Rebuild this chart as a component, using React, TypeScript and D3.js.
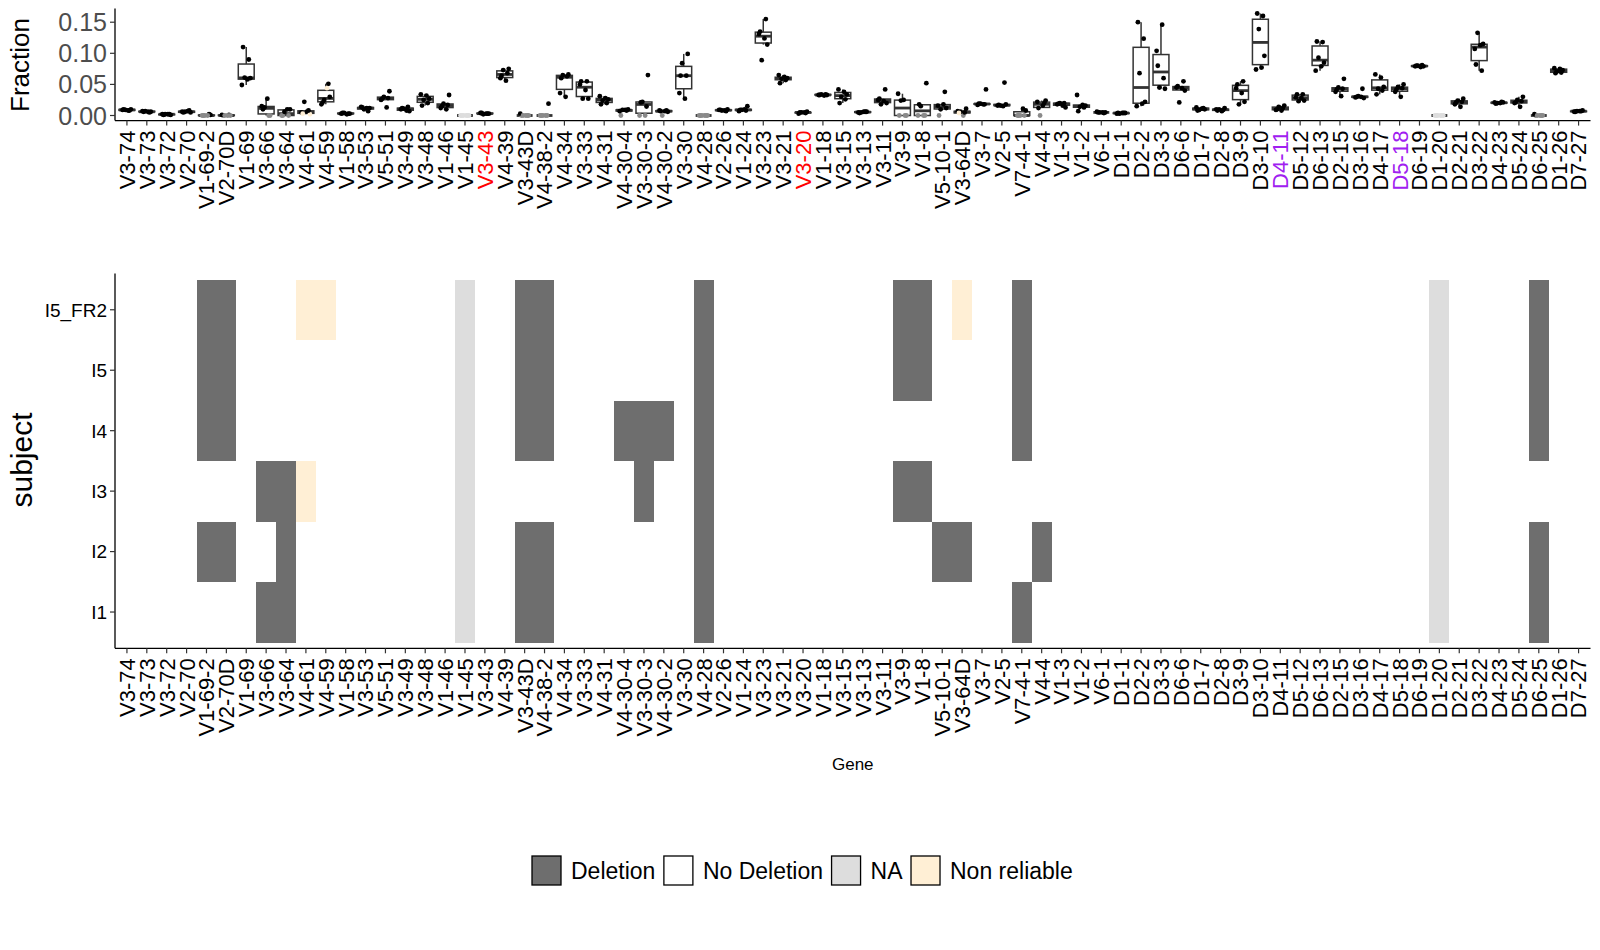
import React from "react";
import * as d3 from "d3";

// genes in plotting order (left to right)
const genes = [
  "V3-74", "V3-73", "V3-72", "V2-70", "V1-69-2", "V2-70D", "V1-69", "V3-66", "V3-64", "V4-61",
  "V4-59", "V1-58", "V3-53", "V5-51", "V3-49", "V3-48", "V1-46", "V1-45", "V3-43", "V4-39",
  "V3-43D", "V4-38-2", "V4-34", "V3-33", "V4-31", "V4-30-4", "V3-30-3", "V4-30-2", "V3-30", "V4-28",
  "V2-26", "V1-24", "V3-23", "V3-21", "V3-20", "V1-18", "V3-15", "V3-13", "V3-11", "V3-9",
  "V1-8", "V5-10-1", "V3-64D", "V3-7", "V2-5", "V7-4-1", "V4-4", "V1-3", "V1-2", "V6-1",
  "D1-1", "D2-2", "D3-3", "D6-6", "D1-7", "D2-8", "D3-9", "D3-10", "D4-11", "D5-12",
  "D6-13", "D2-15", "D3-16", "D4-17", "D5-18", "D6-19", "D1-20", "D2-21", "D3-22", "D4-23",
  "D5-24", "D6-25", "D1-26", "D7-27",
];

// subjects, bottom to top in the heatmap
const subjects = ["I1", "I2", "I3", "I4", "I5", "I5_FR2"];

// usage fraction per gene, one value per subject (I1, I2, I3, I4, I5, I5_FR2)
const fractions: number[][] = [
  [0.009, 0.008, 0.010, 0.009, 0.008, 0.010],
  [0.006, 0.007, 0.005, 0.006, 0.007, 0.006],
  [0.002, 0.001, 0.002, 0.002, 0.001, 0.002],
  [0.006, 0.007, 0.005, 0.006, 0.008, 0.005],
  [0.001, 0, 0.002, 0, 0, 0],
  [0.001, 0, 0.001, 0, 0, 0],
  [0.049, 0.058, 0.060, 0.061, 0.090, 0.110],
  [0, 0.013, 0, 0.010, 0.015, 0.027],
  [0, 0, 0, 0.010, 0.010, 0.006],
  [0.005, 0.006, 0.002, 0.022, 0.008, 0.003],
  [0.030, 0.025, 0.051, 0.021, 0.018, 0.044],
  [0.003, 0.004, 0.003, 0.002, 0.003, 0.004],
  [0.014, 0.012, 0.012, 0.010, 0.007, 0.013],
  [0.039, 0.030, 0.028, 0.027, 0.025, 0.013],
  [0.014, 0.012, 0.010, 0.008, 0.007, 0.011],
  [0.034, 0.032, 0.027, 0.025, 0.020, 0.016],
  [0.033, 0.019, 0.017, 0.015, 0.012, 0.010],
  [0, 0, 0, 0, 0, 0],
  [0.004, 0.003, 0.003, 0.002, 0.003, 0.004],
  [0.075, 0.073, 0.068, 0.064, 0.060, 0.056],
  [0, 0, 0.003, 0, 0, 0],
  [0, 0, 0.019, 0, 0, 0],
  [0.066, 0.065, 0.063, 0.060, 0.036, 0.030],
  [0.055, 0.055, 0.050, 0.041, 0.027, 0.027],
  [0.031, 0.028, 0.026, 0.024, 0.020, 0.018],
  [0.010, 0.009, 0.008, 0, 0.007, 0.009],
  [0.0145, 0.021, 0, 0, 0.065, 0.022],
  [0.008, 0.007, 0.006, 0, 0.008, 0.007],
  [0.099, 0.084, 0.064, 0.064, 0.036, 0.027],
  [0, 0, 0, 0, 0, 0],
  [0.009, 0.008, 0.010, 0.008, 0.007, 0.009],
  [0.015, 0.009, 0.008, 0.009, 0.007, 0.010],
  [0.155, 0.135, 0.131, 0.124, 0.114, 0.089],
  [0.065, 0.062, 0.060, 0.059, 0.057, 0.052],
  [0.006, 0.005, 0.004, 0.005, 0.003, 0.005],
  [0.034, 0.033, 0.033, 0.032, 0.033, 0.034],
  [0.042, 0.038, 0.034, 0.030, 0.026, 0.020],
  [0.006, 0.005, 0.006, 0.004, 0.005, 0.006],
  [0.042, 0.027, 0.025, 0.023, 0.020, 0.018],
  [0.035, 0.025, 0, 0.024, 0, 0],
  [0.052, 0.015, 0, 0.018, 0, 0],
  [0.038, 0, 0.016, 0.018, 0.012, 0.010],
  [0.007, 0, 0.011, 0.006, 0.005, 0.004],
  [0.042, 0.019, 0.018, 0.019, 0.017, 0.018],
  [0.053, 0.017, 0.016, 0.015, 0.018, 0.016],
  [0, 0.011, 0.008, 0, 0, 0],
  [0.024, 0, 0.020, 0.012, 0.022, 0.016],
  [0.020, 0.019, 0.018, 0.016, 0.013, 0.020],
  [0.033, 0.017, 0.016, 0.014, 0.013, 0.007],
  [0.005, 0.005, 0.004, 0.005, 0.006, 0.005],
  [0.004, 0.004, 0.003, 0.004, 0.004, 0.003],
  [0.015, 0.019, 0.022, 0.068, 0.1235, 0.150],
  [0.043, 0.045, 0.060, 0.080, 0.104, 0.146],
  [0.055, 0.047, 0.045, 0.044, 0.040, 0.021],
  [0.013, 0.011, 0.010, 0.009, 0.012, 0.008],
  [0.012, 0.010, 0.009, 0.008, 0.010, 0.007],
  [0.055, 0.050, 0.044, 0.036, 0.022, 0.018],
  [0.074, 0.077, 0.096, 0.139, 0.160, 0.164],
  [0.016, 0.014, 0.012, 0.010, 0.009, 0.008],
  [0.034, 0.034, 0.029, 0.028, 0.024, 0.023],
  [0.072, 0.079, 0.085, 0.093, 0.118, 0.119],
  [0.059, 0.045, 0.043, 0.042, 0.038, 0.031],
  [0.043, 0.030, 0.029, 0.030, 0.028, 0.031],
  [0.066, 0.061, 0.046, 0.043, 0.040, 0.034],
  [0.050, 0.046, 0.044, 0.042, 0.038, 0.030],
  [0.081, 0.080, 0.079, 0.078, 0.079, 0.080],
  [0, 0, 0, 0, 0, 0],
  [0.027, 0.024, 0.022, 0.021, 0.018, 0.014],
  [0.072, 0.082, 0.107, 0.113, 0.115, 0.133],
  [0.021, 0.020, 0.021, 0.020, 0.022, 0.019],
  [0.030, 0.025, 0.023, 0.021, 0.020, 0.014],
  [0, 0, 0.002, 0, 0, 0],
  [0.076, 0.075, 0.073, 0.071, 0.069, 0.068],
  [0.008, 0.007, 0.007, 0.006, 0.006, 0.007],
];

// highlighted tick labels on the top panel
const redGenes = ["V3-43", "V3-20"];
const purpleGenes = ["D4-11", "D5-18"];

// heatmap status
const deletions: [string, string[]][] = [
  ["I5_FR2", ["V1-69-2", "V2-70D", "V3-43D", "V4-38-2", "V4-28", "V3-9", "V1-8", "V7-4-1", "D6-25"]],
  ["I5", ["V1-69-2", "V2-70D", "V3-43D", "V4-38-2", "V4-28", "V3-9", "V1-8", "V7-4-1", "D6-25"]],
  ["I4", ["V1-69-2", "V2-70D", "V3-43D", "V4-38-2", "V4-30-4", "V3-30-3", "V4-30-2", "V4-28", "V7-4-1", "D6-25"]],
  ["I3", ["V3-66", "V3-64", "V3-30-3", "V4-28", "V3-9", "V1-8"]],
  ["I2", ["V1-69-2", "V2-70D", "V3-64", "V3-43D", "V4-38-2", "V4-28", "V5-10-1", "V3-64D", "V4-4", "D6-25"]],
  ["I1", ["V3-66", "V3-64", "V3-43D", "V4-38-2", "V4-28", "V7-4-1", "D6-25"]],
];
const naGenes = ["V1-45", "D1-20"];
const nonReliable: [string, string[]][] = [
  ["I5_FR2", ["V4-61", "V4-59", "V3-64D"]],
  ["I3", ["V4-61"]],
];

const statusLevels = ["Deletion", "No Deletion", "NA", "Non reliable"];
const statusColors = ["#6E6E6E", "#FFFFFF", "#DDDDDD", "#FFEFD5"];
const pointColors: Record<string, string> = {
  "Deletion": "#8A8A8A",
  "No Deletion": "#000000",
  "NA": "#DDDDDD",
  "Non reliable": "#FFEFD5",
};

function statusOf(subject: string, gene: string) {
  if (naGenes.includes(gene)) return "NA";
  const d = deletions.find((r) => r[0] === subject);
  if (d && d[1].includes(gene)) return "Deletion";
  const n = nonReliable.find((r) => r[0] === subject);
  if (n && n[1].includes(gene)) return "Non reliable";
  return "No Deletion";
}

const FONT = "'Liberation Sans', Arial, Helvetica, sans-serif";
const W = 1600;
const H = 950;
const LEFT = 115;
const RIGHT = 1590.5;

function textWidth(s: string, size: number) {
  const c = document.createElement("canvas").getContext("2d");
  if (!c) return s.length * size * 0.55;
  c.font = `${size}px ${FONT}`;
  return c.measureText(s).width;
}

export default function App() {
  const x = d3.scaleBand<string>().domain(genes).range([LEFT, RIGHT]).paddingInner(0).paddingOuter(0.1);
  const step = x.bandwidth();
  const cx = (g: string) => (x(g) as number) + step / 2;

  // top panel
  const allVals = fractions.flat();
  const maxF = d3.max(allVals) as number;
  const pad = maxF * 0.05;
  const yTop = d3.scaleLinear().domain([-pad, maxF + pad]).range([120.6, 8.4]);
  const topTicks = [0, 0.05, 0.1, 0.15];

  // heatmap panel
  const hTop = 273.5;
  const hBottom = 648.3;
  const yHeat = d3.scaleBand<string>().domain([...subjects].reverse()).range([hTop, hBottom]).paddingInner(0).paddingOuter(0.1);
  const rowH = yHeat.bandwidth();

  const jit = [-0.22, 0.06, 0.2, -0.08, 0.13, -0.16];

  const boxes = genes.map((g, gi) => {
    const vals = fractions[gi];
    const s = [...vals].sort(d3.ascending);
    const q1 = d3.quantile(s, 0.25) as number;
    const med = d3.quantile(s, 0.5) as number;
    const q3 = d3.quantile(s, 0.75) as number;
    const iqr = q3 - q1;
    const lo = d3.min(s.filter((v) => v >= q1 - 1.5 * iqr)) as number;
    const hi = d3.max(s.filter((v) => v <= q3 + 1.5 * iqr)) as number;
    return { g, gi, q1, med, q3, lo, hi };
  });

  const labelColor = (g: string) =>
    redGenes.includes(g) ? "#FF0000" : purpleGenes.includes(g) ? "#A020F0" : "#000000";

  // legend layout
  const keySize = 29;
  const legendY = 856;
  const legendFont = 23;
  let lx = 532;
  const legendItems = statusLevels.map((lvl, i) => {
    const item = { lvl, color: statusColors[i], x: lx };
    lx += keySize + 10 + textWidth(lvl, legendFont) + 8.5;
    return item;
  });

  const boxW = step * 0.8;

  return (
    <svg width={W} height={H} style={{ position: "absolute", left: 0, top: 0, background: "#fff" }} fontFamily={FONT}>
      <rect x={0} y={0} width={W} height={H} fill="#fff" />

      {/* ---------- top boxplot panel ---------- */}
      <g>
        {boxes.map((b) => {
          const c = cx(b.g);
          return (
            <g key={b.g}>
              <line x1={c} x2={c} y1={yTop(b.q3)} y2={yTop(b.hi)} stroke="#333" strokeWidth={1.5} />
              <line x1={c} x2={c} y1={yTop(b.q1)} y2={yTop(b.lo)} stroke="#333" strokeWidth={1.5} />
              <rect x={c - boxW / 2} y={yTop(b.q3)} width={boxW} height={Math.max(0, yTop(b.q1) - yTop(b.q3))}
                fill="#fff" stroke="#333" strokeWidth={1.5} />
              <line x1={c - boxW / 2} x2={c + boxW / 2} y1={yTop(b.med)} y2={yTop(b.med)} stroke="#333" strokeWidth={2.8} />
            </g>
          );
        })}
        {genes.map((g, gi) =>
          fractions[gi].map((v, si) => (
            <circle key={g + si} cx={cx(g) + jit[(si + gi * 2) % 6] * step} cy={yTop(v)} r={2.4}
              fill={pointColors[statusOf(subjects[si], g)]} />
          ))
        )}
        <line x1={LEFT} x2={LEFT} y1={yTop.range()[1]} y2={yTop.range()[0]} stroke="#000" strokeWidth={1.3} />
        <line x1={LEFT} x2={RIGHT} y1={yTop.range()[0]} y2={yTop.range()[0]} stroke="#000" strokeWidth={1.3} />
        {topTicks.map((t) => (
          <g key={t}>
            <line x1={LEFT - 5} x2={LEFT} y1={yTop(t)} y2={yTop(t)} stroke="#333" strokeWidth={1.2} />
            <text x={LEFT - 8} y={yTop(t)} dy="0.36em" textAnchor="end" fontSize={25} fill="#4D4D4D">
              {d3.format(".2f")(t)}
            </text>
          </g>
        ))}
        {genes.map((g) => (
          <g key={g}>
            <line x1={cx(g)} x2={cx(g)} y1={yTop.range()[0]} y2={yTop.range()[0] + 5} stroke="#333" strokeWidth={1.2} />
            <text transform={`translate(${cx(g)},${yTop.range()[0] + 10}) rotate(-90)`} textAnchor="end" dy="0.36em"
              fontSize={22} fill={labelColor(g)}>{g}</text>
          </g>
        ))}
        <text transform={`translate(29,65) rotate(-90)`} textAnchor="middle" fontSize={26} fill="#000">Fraction</text>
      </g>

      {/* ---------- heatmap panel ---------- */}
      <g shapeRendering="crispEdges">
        {subjects.map((s) =>
          genes.map((g) => {
            const st = statusOf(s, g);
            return (
              <rect key={s + g} x={x(g)} y={yHeat(s)} width={step + 0.5} height={rowH + 0.5}
                fill={statusColors[statusLevels.indexOf(st)]} />
            );
          })
        )}
      </g>
      <g>
        <line x1={LEFT} x2={LEFT} y1={hTop} y2={hBottom} stroke="#000" strokeWidth={1.3} />
        <line x1={LEFT} x2={RIGHT} y1={hBottom} y2={hBottom} stroke="#000" strokeWidth={1.3} />
        {subjects.map((s) => {
          const yy = (yHeat(s) as number) + rowH / 2;
          return (
            <g key={s}>
              <line x1={LEFT - 5} x2={LEFT} y1={yy} y2={yy} stroke="#333" strokeWidth={1.2} />
              <text x={LEFT - 8} y={yy} dy="0.36em" textAnchor="end" fontSize={19} fill="#000">{s}</text>
            </g>
          );
        })}
        {genes.map((g) => (
          <g key={g}>
            <line x1={cx(g)} x2={cx(g)} y1={hBottom} y2={hBottom + 5} stroke="#333" strokeWidth={1.2} />
            <text transform={`translate(${cx(g)},${hBottom + 10}) rotate(-90)`} textAnchor="end" dy="0.36em"
              fontSize={22} fill="#000">{g}</text>
          </g>
        ))}
        <text transform={`translate(32,460) rotate(-90)`} textAnchor="middle" fontSize={30} fill="#000">subject</text>
        <text x={(LEFT + RIGHT) / 2} y={770} textAnchor="middle" fontSize={17} fill="#000">Gene</text>
      </g>

      {/* ---------- legend ---------- */}
      <g>
        {legendItems.map((it) => (
          <g key={it.lvl}>
            <rect x={it.x} y={legendY} width={keySize} height={keySize} fill={it.color} stroke="#000" strokeWidth={1.3} />
            <text x={it.x + keySize + 10} y={legendY + keySize / 2} dy="0.36em" fontSize={legendFont} fill="#000">{it.lvl}</text>
          </g>
        ))}
      </g>
    </svg>
  );
}
